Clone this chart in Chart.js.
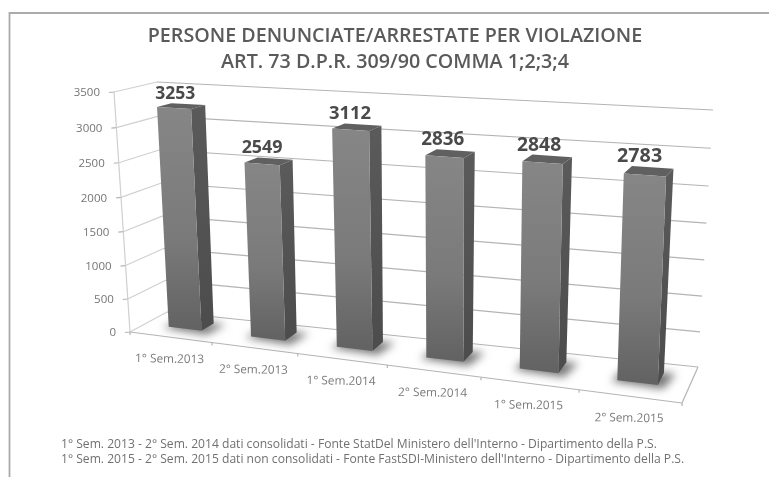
<!DOCTYPE html>
<html><head><meta charset="utf-8">
<style>
html,body{margin:0;padding:0;background:#fff;width:769px;height:477px;overflow:hidden}
#wrap{position:absolute;left:0;top:0;width:769px;height:477px;filter:blur(0.6px)}
canvas{display:block}
</style>
<script src="https://cdn.jsdelivr.net/npm/chart.js@4"></script>
</head><body><div id="wrap"><canvas id="c" width="769" height="477"></canvas></div>
<script>
const categories=["1° Sem.2013","2° Sem.2013","1° Sem.2014","2° Sem.2014","1° Sem.2015","2° Sem.2015"];
const persone=[3253,2549,3112,2836,2848,2783];
const titleLines=["PERSONE DENUNCIATE/ARRESTATE PER VIOLAZIONE","ART. 73 D.P.R. 309/90 COMMA 1;2;3;4"];
const notes=["1° Sem. 2013 - 2° Sem. 2014 dati consolidati - Fonte StatDel Ministero dell'Interno - Dipartimento della P.S.",
"1° Sem. 2015 - 2° Sem. 2015 dati non consolidati - Fonte FastSDI-Ministero dell'Interno - Dipartimento della P.S."];
const yMax=3500, yStep=500;

// projective box: [bottom-left, bottom-right, top-right, top-left] of front and back planes
const frontQ=[[130,332],[682,403],[692,130],[114,92]];
const backQ=[[167,312],[698,367],[713,110],[157,82]];
const depthNear=0.40, depthFar=0.74;

function homog(q){
  const [p0,p1,p2,p3]=q;
  const dx1=p1[0]-p2[0],dx2=p3[0]-p2[0],sx=p0[0]-p1[0]+p2[0]-p3[0];
  const dy1=p1[1]-p2[1],dy2=p3[1]-p2[1],sy=p0[1]-p1[1]+p2[1]-p3[1];
  const d=dx1*dy2-dx2*dy1;
  const g=(sx*dy2-dx2*sy)/d,h=(dx1*sy-sx*dy1)/d;
  const a=p1[0]-p0[0]+g*p1[0],b=p3[0]-p0[0]+h*p3[0],c=p0[0];
  const e=p1[1]-p0[1]+g*p1[1],f=p3[1]-p0[1]+h*p3[1],k=p0[1];
  return (u,v)=>{const w=g*u+h*v+1;return [(a*u+b*v+c)/w,(e*u+f*v+k)/w];};
}
const HF=homog(frontQ),HB=homog(backQ);
function P(u,v,w){const a=HF(u,v),b=HB(u,v);return [a[0]+(b[0]-a[0])*w,a[1]+(b[1]-a[1])*w];}
function poly(ctx,pts){ctx.beginPath();pts.forEach((p,i)=>i?ctx.lineTo(p[0],p[1]):ctx.moveTo(p[0],p[1]));ctx.closePath();}
function line(ctx,a,b){ctx.beginPath();ctx.moveTo(a[0],a[1]);ctx.lineTo(b[0],b[1]);ctx.stroke();}

const box3d={
  id:'box3d',
  beforeDatasetDraw(){return false;},
  afterDraw(chart){
    const ctx=chart.ctx,yS=chart.scales.y,A=chart.chartArea;
    const U=x=>(x-A.left)/(A.right-A.left),V=y=>(A.bottom-y)/(A.bottom-A.top);
    ctx.save();
    // frame of the scanned panel
    ctx.strokeStyle='#ababab';ctx.lineWidth=1.8;
    ctx.beginPath();ctx.moveTo(769,13);ctx.lineTo(9.5,13);ctx.lineTo(9.5,477);ctx.stroke();

    // walls and gridlines from the y scale ticks
    ctx.lineWidth=1.2;
    yS.ticks.forEach(t=>{
      const v=V(yS.getPixelForValue(t.value));
      const fl=P(0,v,0),bl=P(0,v,1),br=P(1,v,1);
      ctx.strokeStyle='#d0d0d0';
      line(ctx,fl,bl);
      ctx.strokeStyle='#b4b4b4';
      if(t.value!==0) line(ctx,bl,br);
      line(ctx,[fl[0]-5,fl[1]+0.5],fl);
      ctx.fillStyle='#757575';ctx.font='11.5px "Open Sans"';ctx.textAlign='right';ctx.textBaseline='middle';
      ctx.fillText(String(t.value),fl[0]-14,fl[1]+1);
    });
    ctx.strokeStyle='#cfcfcf';
    line(ctx,P(0,0,0),P(0,1,0));
    // floor
    ctx.strokeStyle='#b4b4b4';
    line(ctx,P(0,0,1),P(1,0,1));
    line(ctx,P(0,0,0),P(1,0,0));
    line(ctx,P(1,0,0),P(1,0,1));
    // category ticks
    const n=categories.length;
    for(let i=0;i<=n;i++){
      const p=P(i/n,0,0);
      line(ctx,p,[p[0],p[1]+3]);
    }
    const metas=chart.getDatasetMeta(0).data;
    // floor shadows first, so they stay under every bar
    metas.forEach(el=>{
      const {x,base,width}=el.getProps(['x','base','width'],true);
      const u0=U(x-width/2),u1=U(x+width/2),vb=V(base);
      const a=P(u0,vb,depthNear),b=P(u1,vb,depthNear),c=P(u1,vb,depthFar),d=P(u0,vb,depthFar);
      ctx.save();
      ctx.filter='blur(4px)';ctx.fillStyle='rgba(85,85,85,0.8)';
      poly(ctx,[[a[0]-6,a[1]+1],[b[0]+5,b[1]+4],[c[0]+12,c[1]+1],[d[0],d[1]]]);ctx.fill();
      ctx.restore();
    });
    // bars
    metas.forEach((el,i)=>{
      const {x,y,base,width}=el.getProps(['x','y','base','width'],true);
      const u0=U(x-width/2),u1=U(x+width/2),vt=V(y),vb=V(base);
      const fbl=P(u0,vb,depthNear),fbr=P(u1,vb,depthNear),ftl=P(u0,vt,depthNear),ftr=P(u1,vt,depthNear);
      const bbr=P(u1,vb,depthFar),btl=P(u0,vt,depthFar),btr=P(u1,vt,depthFar);
      // side
      const gs=ctx.createLinearGradient(0,ftr[1],0,fbr[1]);
      gs.addColorStop(0,'#5a5a5a');gs.addColorStop(1,'#4c4c4c');
      ctx.fillStyle=gs;poly(ctx,[ftr,btr,bbr,fbr]);ctx.fill();
      // top
      ctx.fillStyle='#606060';poly(ctx,[ftl,ftr,btr,btl]);ctx.fill();
      // front
      const gf=ctx.createLinearGradient(0,ftl[1],0,fbl[1]);
      gf.addColorStop(0,'#868686');gf.addColorStop(0.6,'#7a7a7a');gf.addColorStop(1,'#636363');
      ctx.fillStyle=gf;poly(ctx,[ftl,ftr,fbr,fbl]);ctx.fill();
      // value label
      const top=P((u0+u1)/2,vt,depthFar);
      const s=17.5+2.2*(i/(n-1));
      ctx.fillStyle='#4a4a4a';ctx.font='bold '+s.toFixed(1)+'px "Open Sans"';
      ctx.textAlign='center';ctx.textBaseline='middle';
      ctx.fillText(String(persone[i]),top[0]-13,top[1]-10.5);
      // category label along the front edge, slightly tilted
      const c=P((i+0.5)/n,0,0);
      const prev=P(i/n,0,0),next=P((i+1)/n,0,0);
      ctx.save();
      ctx.translate(c[0]-1,c[1]+22);
      ctx.rotate(Math.atan2(next[1]-prev[1],next[0]-prev[0])*0.12);
      ctx.fillStyle='#7a7a7a';ctx.font='11.8px "Open Sans"';ctx.textAlign='center';ctx.textBaseline='middle';
      ctx.fillText(categories[i],0,0);
      ctx.restore();
    });
    // footnotes
    ctx.fillStyle='#707070';ctx.font='12.1px "Open Sans"';ctx.textAlign='left';ctx.textBaseline='middle';
    ctx.fillText(notes[0],61,445);
    ctx.fillText(notes[1],61,460);
    ctx.restore();
  }
};

new Chart(document.getElementById('c'),{
  type:'bar',
  data:{labels:categories,datasets:[{label:'Persone',data:persone,backgroundColor:'#808080',barPercentage:0.72,categoryPercentage:0.56}]},
  options:{
    responsive:false,animation:false,devicePixelRatio:1,
    layout:{padding:{left:41,right:20,top:23,bottom:40}},
    plugins:{
      legend:{display:false},tooltip:{enabled:false},
      title:{display:true,text:titleLines,color:'#5a5a5a',font:{family:'"Open Sans"',size:19.7,weight:'600',lineHeight:1.32},padding:{top:0,bottom:10}}
    },
    scales:{
      x:{display:false,grid:{display:false}},
      y:{display:false,min:0,max:yMax,ticks:{stepSize:yStep},grid:{display:false}}
    }
  },
  plugins:[box3d]
});
</script></body></html>
